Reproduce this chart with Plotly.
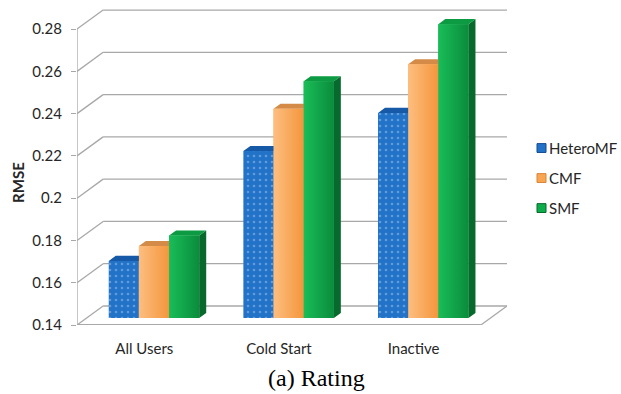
import plotly.graph_objects as go

# ---- data ----
categories = ["All Users", "Cold Start", "Inactive"]
series_names = ["HeteroMF", "CMF", "SMF"]
hetero_rmse = [0.167, 0.219, 0.237]
cmf_rmse = [0.174, 0.239, 0.260]
smf_rmse = [0.179, 0.252, 0.279]
y_tick_vals = [0.14, 0.16, 0.18, 0.20, 0.22, 0.24, 0.26, 0.28]
y_tick_text = ["0.14", "0.16", "0.18", "0.2", "0.22", "0.24", "0.26", "0.28"]

series_values = [hetero_rmse, cmf_rmse, smf_rmse]

# ---- pseudo-3D geometry (in axis units) ----
Y_MIN, Y_MAX = 0.14, 0.28
WALL_DX, WALL_DY = 0.194, 0.009      # depth offset of the back wall
BAR_POS = 0.37                       # bar front face position within the depth
BAR_W = 0.224                        # width of one bar
BAR_DX, BAR_DY = 0.052, 0.0024       # depth of each bar
X_LO, X_HI = -0.5, len(categories) - 0.5 + WALL_DX

front_colors = ["#2272C8", "#F9A552", "#0EAD4C"]
front_light = [None, "#FDBE80", "#19BD58"]
front_dark = [None, "#F4963C", "#0A8C3C"]
top_colors = ["#1659A6", "#D48B48", "#0C9A42"]
side_colors = ["#124C8E", "#D9853A", "#08692C"]
grid_color = "#A8A8A8"

fig = go.Figure()

shift_x = BAR_POS * WALL_DX
shift_y = BAR_POS * WALL_DY
bar_base = Y_MIN + shift_y

# side and top faces first so front faces sit above them
for j, vals in enumerate(series_values):
    sx, sy, tx, ty = [], [], [], []
    for i, v in enumerate(vals):
        xc = i + shift_x + (j - 1) * BAR_W
        x0, x1 = xc - BAR_W / 2, xc + BAR_W / 2
        top = v + shift_y
        sx += [x1, x1, x1 + BAR_DX, x1 + BAR_DX, x1, None]
        sy += [bar_base, top, top + BAR_DY, bar_base + BAR_DY, bar_base, None]
        tx += [x0, x1, x1 + BAR_DX, x0 + BAR_DX, x0, None]
        ty += [top, top, top + BAR_DY, top + BAR_DY, top, None]
    fig.add_trace(go.Scatter(x=sx, y=sy, mode="lines", fill="toself",
                             fillcolor=side_colors[j], line=dict(width=0),
                             showlegend=False, hoverinfo="skip"))
    fig.add_trace(go.Scatter(x=tx, y=ty, mode="lines", fill="toself",
                             fillcolor=top_colors[j], line=dict(width=0),
                             showlegend=False, hoverinfo="skip"))

# front faces
for j, (name, vals) in enumerate(zip(series_names, series_values)):
    xs = [i + shift_x + (j - 1) * BAR_W for i in range(len(categories))]
    marker = dict(color=front_colors[j], line=dict(width=0))
    if j == 0:
        marker["pattern"] = dict(shape=".", fgcolor="#9CC6EE", size=6, solidity=0.15)
    fig.add_trace(go.Bar(
        x=xs, y=[v - Y_MIN for v in vals], base=bar_base, width=BAR_W,
        name=name, marker=marker, showlegend=False,
        hovertemplate=name + ": %{customdata}<extra></extra>",
        customdata=vals,
    ))

# horizontal light-to-dark shading on the plain front faces
for j, vals in enumerate(series_values):
    if front_light[j] is None:
        continue
    for i, v in enumerate(vals):
        xc = i + shift_x + (j - 1) * BAR_W
        x0, x1 = xc - BAR_W / 2, xc + BAR_W / 2
        top = v + shift_y
        fig.add_trace(go.Scatter(
            x=[x0, x1, x1, x0, x0], y=[bar_base, bar_base, top, top, bar_base],
            mode="lines", fill="toself", line=dict(width=0),
            fillgradient=dict(type="horizontal",
                              colorscale=[[0, front_light[j]], [1, front_dark[j]]]),
            showlegend=False, hoverinfo="skip"))

# back wall gridlines, left-side diagonals and floor
shapes = []
line_style = dict(color=grid_color, width=1.3)
for t in y_tick_vals:
    shapes.append(dict(type="line", xref="x", yref="y", layer="below",
                       x0=X_LO, y0=t, x1=X_LO + WALL_DX, y1=t + WALL_DY, line=line_style))
    shapes.append(dict(type="line", xref="x", yref="y", layer="below",
                       x0=X_LO + WALL_DX, y0=t + WALL_DY, x1=X_HI, y1=t + WALL_DY, line=line_style))
shapes.append(dict(type="line", xref="x", yref="y", layer="below",
                   x0=X_LO, y0=Y_MIN, x1=X_LO, y1=Y_MAX, line=line_style))
shapes.append(dict(type="line", xref="x", yref="y", layer="below",
                   x0=X_LO, y0=Y_MIN, x1=X_HI - WALL_DX, y1=Y_MIN,
                   line=dict(color=grid_color, width=2)))
shapes.append(dict(type="line", xref="x", yref="y", layer="below",
                   x0=X_HI - WALL_DX, y0=Y_MIN, x1=X_HI, y1=Y_MIN + WALL_DY,
                   line=line_style))

# legend: small colour keys with labels to the right of the plot
annotations = []
legend_y = [0.560, 0.465, 0.370]
key_h = 0.014
for j, name in enumerate(series_names):
    shapes.append(dict(type="rect", xref="paper", yref="paper",
                       x0=1.0698, x1=1.0907, y0=legend_y[j] - key_h, y1=legend_y[j] + key_h,
                       fillcolor=front_colors[j], line=dict(color=side_colors[j], width=1)))
    annotations.append(dict(text=name, xref="paper", yref="paper",
                            x=1.094, y=legend_y[j], xanchor="left", yanchor="middle",
                            showarrow=False,
                            font=dict(family="Lato", size=15, color="#262626")))

annotations += [
    dict(text="<b>RMSE</b>", textangle=-90, xref="paper", yref="paper",
         x=-0.137, y=0.45, xanchor="center", yanchor="middle", showarrow=False,
         font=dict(family="Lato", size=15, color="#262626")),
    dict(text="(a) Rating", xref="paper", yref="paper",
         x=0.556, y=-0.168, xanchor="center", yanchor="middle", showarrow=False,
         font=dict(family="Liberation Serif", size=24, color="#000000")),
]

fig.update_layout(
    width=621, height=394,
    margin=dict(l=77, r=114, t=9, b=69, autoexpand=False),
    paper_bgcolor="white", plot_bgcolor="white",
    barmode="overlay",
    showlegend=False,
    shapes=shapes,
    annotations=annotations,
    font=dict(family="Lato", color="#262626"),
)
fig.update_xaxes(range=[X_LO, X_HI], tickvals=list(range(len(categories))),
                 ticktext=categories, showgrid=False, zeroline=False, showline=False,
                 ticks="", ticklabelstandoff=13,
                 tickfont=dict(family="Lato", size=15, color="#262626"))
fig.update_yaxes(range=[Y_MIN, Y_MAX + WALL_DY + 0.0005], tickvals=y_tick_vals,
                 ticktext=y_tick_text, showgrid=False, zeroline=False, showline=False,
                 ticks="outside", ticklen=5, tickcolor=grid_color, tickwidth=1.3,
                 ticklabelstandoff=6,
                 tickfont=dict(family="Lato", size=15, color="#262626"))

fig.write_html("out.html")
